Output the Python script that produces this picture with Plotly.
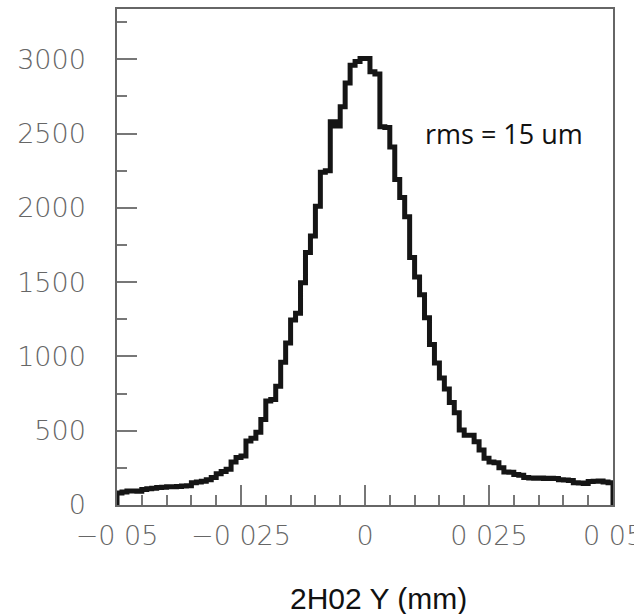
import plotly.graph_objects as go

# Histogram: 100 bins from -0.05 to 0.05 mm
bin_lo = -0.05
bin_width = 0.001
counts = [
    80, 88, 95, 95, 92, 105, 110, 112, 118, 120,
    122, 122, 125, 128, 130, 150, 155, 160, 170, 185,
    210, 225, 240, 290, 320, 330, 430, 450, 490, 575,
    700, 710, 800, 960, 1090, 1245, 1290, 1495, 1700, 1810,
    2010, 2240, 2250, 2580, 2550, 2680, 2840, 2960, 2985, 3005,
    3005, 2915, 2900, 2545, 2540, 2410, 2190, 2070, 1940, 1665,
    1535, 1415, 1260, 1080, 955, 855, 780, 690, 620, 505,
    470, 470, 425, 370, 315, 290, 285, 250, 222, 220,
    205, 200, 185, 182, 180, 182, 178, 180, 178, 170,
    168, 165, 150, 148, 145, 158, 160, 162, 155, 150,
]
x_tickvals = [-0.05, -0.025, 0, 0.025, 0.05]
x_ticktext = ["\u22120 05", "\u22120 025", "0", "0 025", "0 05"]
y_tickvals = [0, 500, 1000, 1500, 2000, 2500, 3000]
y_ticktext = ["0", "500", "1000", "1500", "2000", "2500", "3000"]
rms_label = "rms = 15 um"
x_title = "2H02 Y (mm)"

n = len(counts)
edges = [bin_lo + i * bin_width for i in range(n + 1)]
xs = [edges[0]] + edges[:n] + [edges[n], edges[n]]
ys = [0] + counts + [counts[-1], 0]

fig = go.Figure()
fig.add_trace(go.Scatter(
    x=xs, y=ys, mode="lines", line=dict(shape="hv", color="#151515", width=5),
    showlegend=False, hoverinfo="skip", cliponaxis=False,
))

tick_font = dict(family="DejaVu Sans ExtraLight, DejaVu Sans Light, Lato, sans-serif",
                 size=27, color="#666666", weight=200)
axis_common = dict(
    showgrid=False, zeroline=False, showline=True, mirror=True,
    linecolor="#666666", linewidth=1.5, ticks="inside", ticklen=20,
    tickcolor="#777777", tickwidth=1.5, tickfont=tick_font,
    ticklabeloverflow="allow", automargin=False,
)
eps = 1e-7
fig.update_xaxes(
    range=[-0.05 - eps, 0.05 + eps], tickmode="array", tickvals=x_tickvals, ticktext=x_ticktext,
    minor=dict(ticks="inside", ticklen=10, dtick=0.005, tick0=-0.05, tickcolor="#777777", tickwidth=1.5),
    ticklabelstandoff=6, **axis_common,
)
fig.update_yaxes(
    range=[0, 3338], tickmode="array", tickvals=y_tickvals, ticktext=y_ticktext,
    minor=dict(ticks="inside", ticklen=10, dtick=250, tick0=0, tickcolor="#777777", tickwidth=1.5),
    ticklabelstandoff=24, **axis_common,
)

fig.add_annotation(
    x=0.0117, y=2503, xref="x", yref="y", text=rms_label, showarrow=False,
    xanchor="left", yanchor="middle",
    font=dict(family="Open Sans, sans-serif", size=27, color="#111111"),
)
fig.add_annotation(
    x=0.527, y=-0.1875, xref="paper", yref="paper", text=x_title, showarrow=False,
    xanchor="center", yanchor="middle",
    font=dict(family="Liberation Sans, Arial, sans-serif", size=30, color="#111111"),
)

fig.update_layout(
    width=634, height=614, margin=dict(l=117, r=21, t=9, b=109, autoexpand=False),
    paper_bgcolor="white", plot_bgcolor="white",
)
fig.write_html("out.html")
